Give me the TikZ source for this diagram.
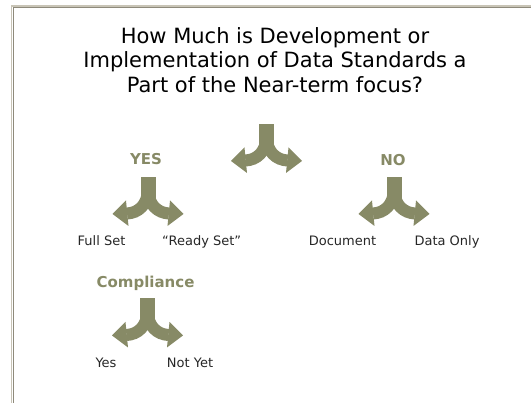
\documentclass[tikz,border=0pt]{standalone}
\usepackage{fontspec}
\setmainfont{DejaVu Sans}
\usepackage{tikz}

\definecolor{forkGreen}{HTML}{878A66}
\definecolor{frameLight}{HTML}{C8C4B6}
\definecolor{frameDark}{HTML}{8E8A7B}

\begin{document}
\begin{tikzpicture}[
	x=1pt, y=-1pt,
	font=\fontsize{13}{15.6}\selectfont
	]
\tikzset{
	question/.style = { align=center, inner sep=0pt, font=\fontsize{21}{24.7}\selectfont },
	branch/.style = { inner sep=0pt, anchor=base, text=forkGreen, font=\fontsize{15}{18}\selectfont\bfseries },
	option/.style = { inner sep=0pt, anchor=base, text=black!85 },
	arm/.style = { forkGreen, line width=12pt },
	forkArrow/.pic = {
		\fill[forkGreen] (-7.5,0) rectangle (7.5,22);
		\draw[arm] (0,12) .. controls (0,28) and (-10,36) .. (-21,36.5);
		\draw[arm] (0,12) .. controls (0,28) and (10,36) .. (21,36.5);
		\fill[forkGreen] (-22,23.5) -- (-35.5,37) -- (-19.5,49) -- cycle;
		\fill[forkGreen] (22,23.5) -- (35.5,37) -- (19.5,49) -- cycle;
	}
}
	\useasboundingbox (0,0) rectangle (531,403);

	% frame
	\draw[frameLight, line width=1.5pt] (11.5,403) |- (531,5.8);
	\draw[frameDark, line width=1pt] (13,403) |- (531,7.3);

	% top question
	\node (question) [question, anchor=base] at (275,92.7) {How Much is Development or\\Implementation of Data Standards a\\Part of the Near-term focus?};
	\pic at (266.5,124) {forkArrow};

	% yes side
	\node (yes) [branch] at (146,165) {YES};
	\pic at (148,177) {forkArrow};
	\node (fullSet) [option] at (101.5,245.5) {Full Set};
	\node (readySet) [option] at (201.7,245.5) {``Ready Set''};

	% no side
	\node (no) [branch] at (393,165.5) {NO};
	\pic at (394,177) {forkArrow};
	\node (document) [option] at (342.5,245.5) {Document};
	\node (dataOnly) [option] at (447,245.5) {Data Only};

	% compliance
	\node (compliance) [branch] at (145.5,288) {Compliance};
	\pic at (147.5,298.5) {forkArrow};
	\node (yesCompliance) [option] at (106,367.5) {Yes};
	\node (notYet) [option] at (190,367.5) {Not Yet};
\end{tikzpicture}
\end{document}
